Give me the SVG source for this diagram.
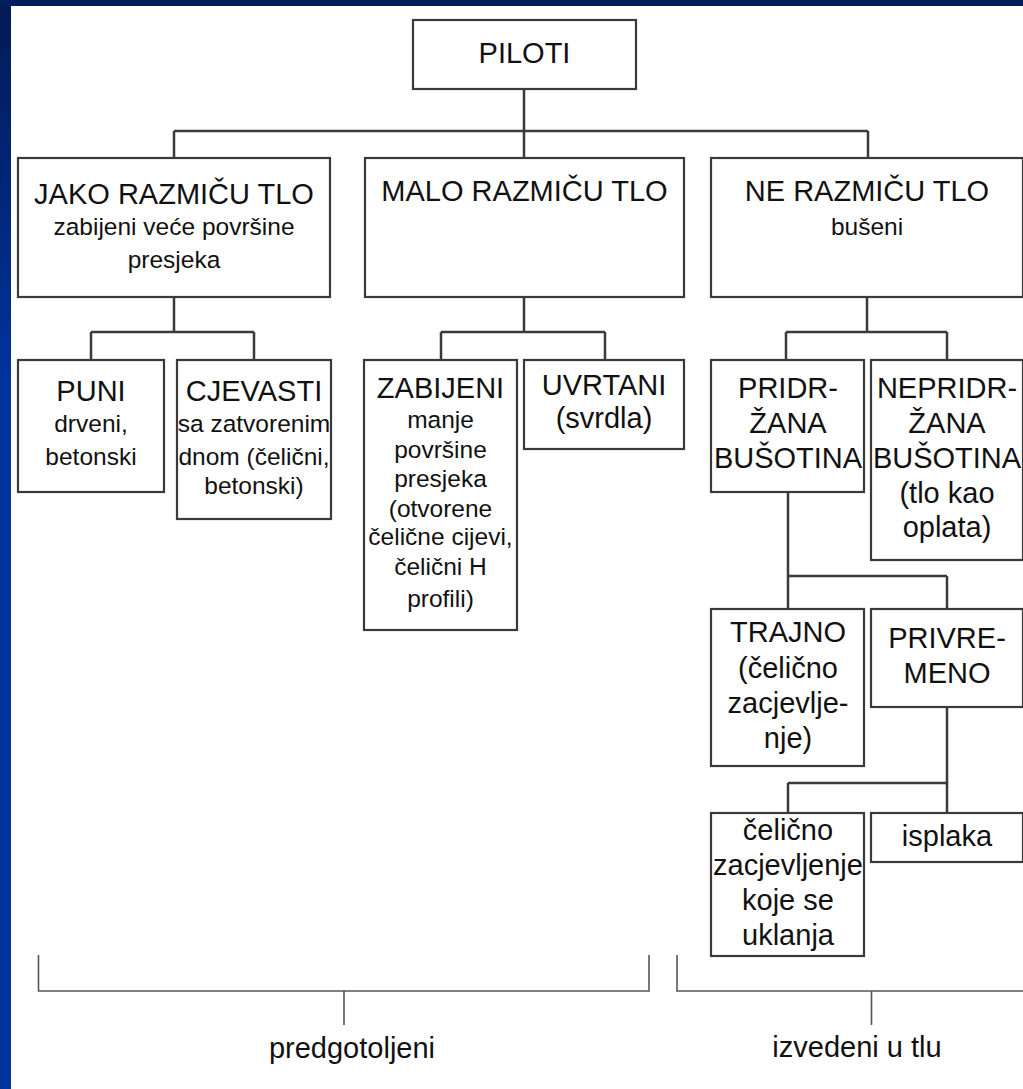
<svg xmlns="http://www.w3.org/2000/svg" width="1023" height="1089" viewBox="0 0 1023 1089">
<defs>
<linearGradient id="side" x1="0" y1="0" x2="0" y2="1089" gradientUnits="userSpaceOnUse">
<stop offset="0" stop-color="#031a56"/>
<stop offset="0.35" stop-color="#00339c"/>
<stop offset="1" stop-color="#00339c"/>
</linearGradient>
<style>
.box{fill:#ffffff;stroke:#3a3a3a;stroke-width:2.2}
.con{fill:none;stroke:#3a3a3a;stroke-width:2.5}
.br{fill:none;stroke:#555555;stroke-width:1.6}
text{font-family:"Liberation Sans",Arial,sans-serif;fill:#111111;text-anchor:middle}
.t{font-size:29px}
.s{font-size:24.5px}
</style>
</defs>
<rect x="0" y="0" width="1023" height="1089" fill="url(#side)"/>
<rect x="0" y="0" width="1023" height="6" fill="#021e5e"/>
<rect x="11" y="6" width="1012" height="1083" fill="#ffffff"/>

<g id="connectors">
<path class="con" d="M524 89V131M174 131H868M174 131V158M524 131V158M868 131V158"/>
<path class="con" d="M174 297V332M91 332H254M91 332V360M254 332V360"/>
<path class="con" d="M524 297V332M441 332H605M441 332V360M605 332V360"/>
<path class="con" d="M867 297V332M786 332H947M786 332V360M947 332V360"/>
<path class="con" d="M788 492V576M788 576H947M788 576V609M947 576V609"/>
<path class="con" d="M947 707V813M788 783H947M788 783V813"/>
</g>

<g id="piloti">
<rect class="box" x="413" y="20" width="223" height="69"/>
<text class="t" x="524.5" y="63">PILOTI</text>
</g>

<g id="jako">
<rect class="box" x="18" y="158" width="312" height="139"/>
<text class="t" x="174" y="204">JAKO RAZMIČU TLO</text>
<text class="s" x="174" y="235">zabijeni veće površine</text>
<text class="s" x="174" y="268">presjeka</text>
</g>

<g id="malo">
<rect class="box" x="365" y="158" width="319" height="139"/>
<text class="t" x="524.5" y="201">MALO RAZMIČU TLO</text>
</g>

<g id="ne">
<rect class="box" x="711" y="158" width="312" height="139"/>
<text class="t" x="867" y="201">NE RAZMIČU TLO</text>
<text class="s" x="867" y="235">bušeni</text>
</g>

<g id="puni">
<rect class="box" x="18" y="360" width="146" height="132"/>
<text class="t" x="91" y="401">PUNI</text>
<text class="s" x="91" y="432">drveni,</text>
<text class="s" x="91" y="465">betonski</text>
</g>

<g id="cjevasti">
<rect class="box" x="177" y="360" width="154" height="159"/>
<text class="t" x="254" y="401">CJEVASTI</text>
<text class="s" x="254" y="432">sa zatvorenim</text>
<text class="s" x="254" y="465">dnom (čelični,</text>
<text class="s" x="254" y="494">betonski)</text>
</g>

<g id="zabijeni">
<rect class="box" x="364" y="360" width="153" height="270"/>
<text class="t" x="440.5" y="398">ZABIJENI</text>
<text class="s" x="440.5" y="428">manje</text>
<text class="s" x="440.5" y="458">površine</text>
<text class="s" x="440.5" y="487">presjeka</text>
<text class="s" x="440.5" y="517">(otvorene</text>
<text class="s" x="440.5" y="545">čelične cijevi,</text>
<text class="s" x="440.5" y="575">čelični H</text>
<text class="s" x="440.5" y="607">profili)</text>
</g>

<g id="uvrtani">
<rect class="box" x="524" y="360" width="160" height="89"/>
<text class="t" x="604" y="395">UVRTANI</text>
<text class="t" x="604" y="428">(svrdla)</text>
</g>

<g id="pridrzana">
<rect class="box" x="711" y="360" width="153" height="132"/>
<text class="t" x="788" y="398">PRIDR-</text>
<text class="t" x="788" y="433">ŽANA</text>
<text class="t" x="788" y="468">BUŠOTINA</text>
</g>

<g id="nepridrzana">
<rect class="box" x="871" y="360" width="152" height="200"/>
<text class="t" x="947" y="398">NEPRIDR-</text>
<text class="t" x="947" y="433">ŽANA</text>
<text class="t" x="947" y="468">BUŠOTINA</text>
<text class="t" x="947" y="503">(tlo kao</text>
<text class="t" x="947" y="537">oplata)</text>
</g>

<g id="trajno">
<rect class="box" x="711" y="609" width="153" height="157"/>
<text class="t" x="788" y="642">TRAJNO</text>
<text class="t" x="788" y="678">(čelično</text>
<text class="t" x="788" y="713">zacjevlje-</text>
<text class="t" x="788" y="748">nje)</text>
</g>

<g id="privremeno">
<rect class="box" x="871" y="609" width="152" height="98"/>
<text class="t" x="947" y="648">PRIVRE-</text>
<text class="t" x="947" y="683">MENO</text>
</g>

<g id="celicno">
<rect class="box" x="711" y="813" width="153" height="143"/>
<text class="t" x="788" y="840">čelično</text>
<text class="t" x="788" y="875">zacjevljenje</text>
<text class="t" x="788" y="910">koje se</text>
<text class="t" x="788" y="945">uklanja</text>
</g>

<g id="isplaka">
<rect class="box" x="871" y="813" width="152" height="49"/>
<text class="t" x="947" y="846">isplaka</text>
</g>

<g id="brackets">
<path class="br" d="M38.5 955V991H649V955M344 991V1025"/>
<path class="br" d="M677 955V991H1023M871.5 991V1025"/>
<text class="t" x="352" y="1058">predgotoljeni</text>
<text class="t" x="857" y="1057">izvedeni u tlu</text>
</g>
</svg>
